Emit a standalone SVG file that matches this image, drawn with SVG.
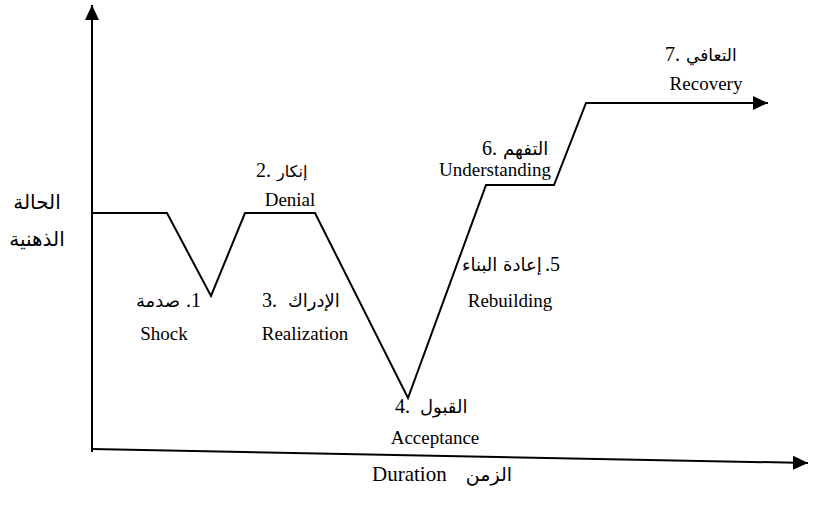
<svg xmlns="http://www.w3.org/2000/svg" width="813" height="510" viewBox="0 0 813 510">
<style>
.en{font-family:"Liberation Serif","Times New Roman",serif;font-size:19px;fill:#000}
.ar{font-family:"DejaVu Sans","Noto Sans",sans-serif;font-size:18px;fill:#000}
.num{font-family:"Liberation Serif","Times New Roman",serif;font-size:20px;fill:#000}
.ln{fill:none;stroke:#000;stroke-width:2}
</style>
<defs>
<marker id="arr" markerUnits="userSpaceOnUse" markerWidth="16" markerHeight="14" refX="15" refY="7" orient="auto">
<path d="M0,0 L15,7 L0,14 Z" fill="#000"/>
</marker>
</defs>
<rect width="813" height="510" fill="#fff"/>
<g id="connectors">
<line class="ln" x1="92" y1="452" x2="92" y2="5" marker-end="url(#arr)"/>
<line class="ln" x1="92" y1="449" x2="808" y2="463" marker-end="url(#arr)"/>
<polyline class="ln" points="92,213 167,213 211,296 245,213 315,213 408,398 486,185 554,185 586,103 768,103" marker-end="url(#arr)"/>
</g>
<g id="yaxis-label">
<text class="ar" x="37" y="209" text-anchor="middle" style="font-size:20px">الحالة</text>
<text class="ar" x="37" y="246" text-anchor="middle" style="font-size:20px">الذهنية</text>
</g>
<g id="xaxis-label">
<text class="en" x="372" y="481" style="font-size:21px">Duration</text>
<text class="ar" x="512" y="481" text-anchor="end" style="font-size:19px">الزمن</text>
</g>
<g id="stage1">
<text class="ar" x="180" y="307" text-anchor="end">صدمة</text>
<text class="num" x="186" y="307">.1</text>
<text class="en" x="164" y="340" text-anchor="middle">Shock</text>
</g>
<g id="stage2">
<text class="num" x="256" y="177">2.</text>
<text class="ar" x="277" y="177" style="font-size:16px">إنكار</text>
<text class="en" x="290" y="206" text-anchor="middle">Denial</text>
</g>
<g id="stage3">
<text class="num" x="262" y="307">3.</text>
<text class="ar" x="288" y="307">الإدراك</text>
<text class="en" x="305" y="340" text-anchor="middle">Realization</text>
</g>
<g id="stage4">
<text class="num" x="395" y="413">4.</text>
<text class="ar" x="420" y="413">القبول</text>
<text class="en" x="435" y="444" text-anchor="middle">Acceptance</text>
</g>
<g id="stage5">
<text class="ar" x="462" y="271">إعادة البناء</text>
<text class="num" x="545" y="271">.5</text>
<text class="en" x="510" y="307" text-anchor="middle">Rebuilding</text>
</g>
<g id="stage6">
<text class="num" x="482" y="155">6.</text>
<text class="ar" x="503" y="155">التفهم</text>
<text class="en" x="495" y="176" text-anchor="middle">Understanding</text>
</g>
<g id="stage7">
<text class="num" x="665" y="61">7.</text>
<text class="ar" x="686" y="61" style="font-size:17px">التعافي</text>
<text class="en" x="706" y="90" text-anchor="middle">Recovery</text>
</g>
</svg>
